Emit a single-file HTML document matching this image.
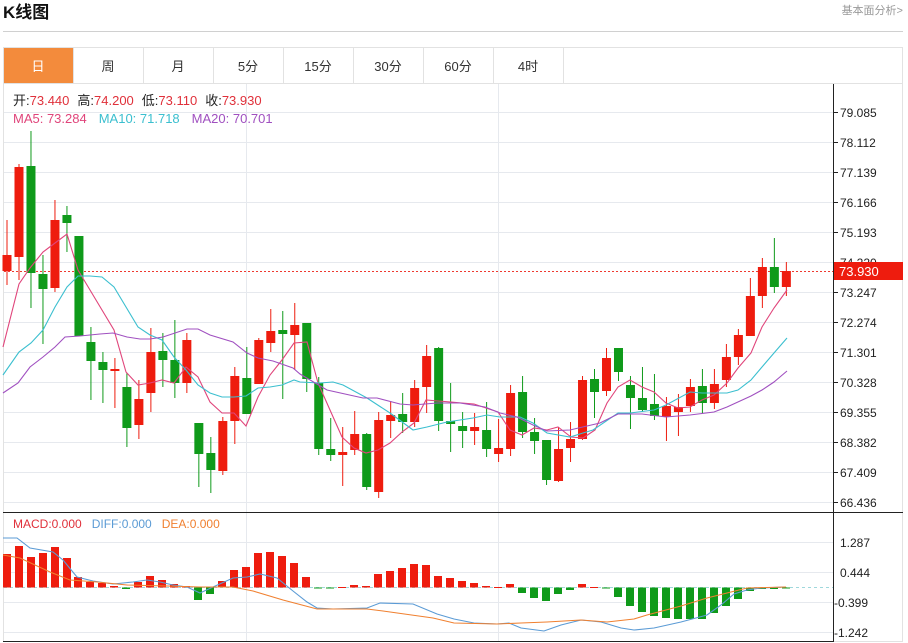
<!DOCTYPE html>
<html><head><meta charset="utf-8"><style>
body{margin:0;width:908px;height:643px;background:#fff;overflow:hidden;font-family:"Liberation Sans","Noto Sans CJK SC",sans-serif}
svg{position:absolute;left:0;top:0}
</style></head><body>
<svg id="s" width="908" height="643" xmlns="http://www.w3.org/2000/svg" font-family="Liberation Sans, Noto Sans CJK SC, sans-serif">
<text x="3" y="18" font-size="17" font-weight="bold" fill="#111">K线图</text>
<text x="903" y="14" font-size="11" fill="#999" text-anchor="end">基本面分析&gt;</text>
<line x1="3" y1="31.5" x2="903" y2="31.5" stroke="#d0d0d0"/>
<rect x="3.5" y="47.5" width="899" height="594" fill="none" stroke="#e2e2e2"/>
<line x1="3" y1="83.5" x2="903" y2="83.5" stroke="#e2e2e2"/>
<rect x="4" y="48" width="69" height="35" fill="#f38b3c"/>
<g id="tabs" font-size="13" text-anchor="middle"></g>
<g id="grid"></g>
<g id="plot"></g>
<line x1="833.5" y1="84" x2="833.5" y2="642" stroke="#222"/>
<line x1="3" y1="512.5" x2="903" y2="512.5" stroke="#222"/>
<line x1="3" y1="641.5" x2="833" y2="641.5" stroke="#222"/>
<g font-size="13">
<text x="13" y="105"><tspan fill="#222">开:</tspan><tspan fill="#e0303a">73.440</tspan><tspan fill="#222" dx="8">高:</tspan><tspan fill="#e0303a">74.200</tspan><tspan fill="#222" dx="8">低:</tspan><tspan fill="#e0303a">73.110</tspan><tspan fill="#222" dx="8">收:</tspan><tspan fill="#e0303a">73.930</tspan></text>
<text x="13" y="123"><tspan fill="#e0457b">MA5: 73.284</tspan><tspan fill="#3bbfcf" dx="12">MA10: 71.718</tspan><tspan fill="#a050c0" dx="12">MA20: 70.701</tspan></text>
<text x="13" y="528" font-size="12"><tspan fill="#e0303a">MACD:0.000</tspan><tspan fill="#5b9bd5" dx="10">DIFF:0.000</tspan><tspan fill="#f08030" dx="10">DEA:0.000</tspan></text>
</g>
</svg>
<script>
const NS="http://www.w3.org/2000/svg";
function el(p,t,a,txt){const e=document.createElementNS(NS,t);for(const k in a)e.setAttribute(k,a[k]);if(txt!==undefined)e.textContent=txt;p.appendChild(e);return e}
const tabs=document.getElementById('tabs'),grid=document.getElementById('grid'),plot=document.getElementById('plot');
const tl=['日','周','月','5分','15分','30分','60分','4时'];
tl.forEach((t,i)=>{const x0=3+70*i;el(tabs,'text',{x:x0+35,y:71,fill:i==0?'#fff':'#333'},t);if(i>0)el(tabs,'line',{x1:x0+0.5,y1:48,x2:x0+0.5,y2:83,stroke:'#e2e2e2'});});
el(tabs,'line',{x1:563.5,y1:48,x2:563.5,y2:83,stroke:'#e2e2e2'});
const labs=['79.085','78.112','77.139','76.166','75.193','74.220','73.247','72.274','71.301','70.328','69.355','68.382','67.409','66.436'];
labs.forEach((l,k)=>{const y=112+30*k;el(grid,'line',{x1:4,y1:y+.5,x2:833,y2:y+.5,stroke:'#e6e9ee'});el(grid,'line',{x1:833,y1:y+.5,x2:838,y2:y+.5,stroke:'#222'});el(grid,'text',{x:840,y:y+5,'font-size':12,fill:'#222'},l)});
[['1.287',542],['0.444',572],['-0.399',602],['-1.242',632]].forEach(a=>{el(grid,'line',{x1:4,y1:a[1]+.5,x2:833,y2:a[1]+.5,stroke:'#e6e9ee'});el(grid,'text',{x:a[0][0]=='-'?834:840,y:a[1]+5,'font-size':12,fill:'#222'},a[0][0]=='-'?a[0]:a[0])});
[246,498].forEach(x=>el(grid,'line',{x1:x+.5,y1:84,x2:x+.5,y2:641,stroke:'#e6e9ee'}));
el(grid,'line',{x1:4,y1:587.5,x2:833,y2:587.5,stroke:'#9fd8dc','stroke-dasharray':'3,3'});
const C=[[255,271,220,285,'r'],[167,257,164,280,'r'],[166,273,131,308,'g'],[274,289,255,344,'g'],[220,288,200,292,'r'],[215,223,206,252,'g'],[236,336,236,336,'g'],[342,361,327,400,'g'],[362,370,352,403,'g'],[369,371,358,408,'r'],[387,428,373,447,'g'],[399,425,380,439,'r'],[352,393,328,412,'r'],[351,360,333,387,'g'],[360,383,320,398,'g'],[340,383,333,393,'r'],[423,454,423,487,'g'],[453,470,437,493,'g'],[421,471,417,475,'r'],[376,421,367,444,'r'],[378,414,347,414,'g'],[340,384,338,384,'r'],[331,343,309,352,'r'],[330,334,311,399,'g'],[325,335,303,370,'r'],
[323,379,323,392,'g'],[383,449,377,455,'g'],[449,455,418,461,'g'],[452,455,427,486,'r'],[434,450,411,455,'r'],[434,487,433,490,'g'],[420,492,412,498,'r'],[415,421,401,438,'r'],[414,422,393,433,'g'],[388,422,380,427,'r'],[356,387,345,413,'r'],[348,421,347,431,'g'],[421,424,383,452,'g'],[426,431,412,448,'g'],[427,431,413,445,'r'],[430,449,402,457,'g'],[448,454,419,462,'r'],[393,449,385,456,'r'],[392,432,376,438,'g'],[432,441,418,454,'g'],[440,480,440,485,'g'],[449,481,427,482,'r'],[439,448,422,462,'r'],[380,439,376,440,'r'],[379,392,369,418,'g'],
[358,391,348,396,'r'],[348,372,348,381,'g'],[385,398,376,429,'g'],[398,410,367,412,'g'],[404,416,374,420,'g'],[406,417,397,441,'r'],[407,412,394,436,'r'],[387,406,379,412,'r'],[386,403,369,413,'g'],[384,403,369,409,'r'],[357,380,344,387,'r'],[335,357,329,365,'r'],[296,336,278,336,'r'],[267,296,258,308,'r'],[267,287,238,293,'g'],[271,287,262,296,'r']];
const RED='#ee1c0e',GR='#0f9a1a';
// price line
el(plot,'line',{x1:4,y1:271.5,x2:833,y2:271.5,stroke:'#ee3a30','stroke-dasharray':'2,2'});
C.forEach((c,i)=>{const x=7+11.99*i,col=c[4]=='r'?RED:GR;el(plot,'line',{x1:x,y1:c[2],x2:x,y2:c[3],stroke:col,'stroke-width':1});el(plot,'rect',{x:x-4.5,y:c[0],width:9,height:Math.max(2,c[1]-c[0]),fill:col})});
function pl(pts,col){el(plot,'polyline',{points:pts,fill:'none',stroke:col,'stroke-width':1.1})}
pl("3,347 19,284 30,268 43,252 55,243 67,234 78,270 90,290 102,310 114,330 126,372 138,385 150,383 162,380 174,383 186,367 198,377 210,402 222,413 234,413 246,426 258,397 270,375 282,360 294,343 307,342 318,383 330,410 342,437 354,448 366,453 378,450 390,443 402,432 414,423 426,400 438,401 451,402 462,403 474,404 486,408 498,412 510,430 522,435 534,428 547,430 558,427 571,437 583,438 595,430 607,403 618,387 630,380 642,387 654,392 666,403 678,408 690,407 702,400 714,395 727,383 738,368 751,353 762,327 774,308 787,290",'#e0457b');
pl("3,375 19,352 31,343 43,330 55,307 67,287 78,276 90,276 102,277 114,287 126,307 138,327 150,335 162,340 174,357 186,370 198,385 210,393 222,397 234,397 246,396 258,388 270,387 282,385 294,380 300,382 320,383 333,382 343,385 367,398 390,413 413,430 427,427 447,422 473,418 487,415 500,417 520,417 533,423 547,433 570,437 583,433 593,430 618,413 630,413 654,410 666,405 690,392 702,393 727,393 738,390 751,380 762,367 774,353 787,338",'#3bbfcf');
pl("3,393 18,383 30,367 43,357 55,347 65,337 80,336 100,334 113,333 127,337 140,339 150,339 163,337 187,329 198,329 210,335 233,342 247,353 258,358 273,361 293,368 300,374 327,390 363,398 377,398 400,404 413,405 437,403 460,403 485,407 500,413 517,417 533,425 547,431 570,430 587,426 600,423 618,414 642,414 666,417 690,415 714,412 727,407 751,396 762,390 774,382 787,371",'#a050c0');
// macd bars
const M=[[7,554],[19,546],[31,557],[43,553],[55,547],[67,558],[78,577],[90,582],[102,583],[114,586],[126,589],[138,582],[150,576],[162,580],[174,584],[186,586],[198,600],[210,594],[222,581],[234,570],[246,567],[258,553],[270,552],[282,556],[294,563],[306,577],[318,588],[330,588],[342,587],[354,585],[366,586],[378,574],[390,571],[402,568],[414,564],[426,565],[438,576],[450,578],[462,581],[474,583],[486,586],[498,587],[510,584],[522,593],[534,598],[546,601],[558,594],[570,590],[582,584],[594,587],[606,588],[618,597],[630,606],[642,612],[654,616],[666,618],[678,619],[690,619],[702,619],[714,613],[726,606],[738,599],[750,591],[762,589],[774,589],[786,588]];
M.forEach(m=>{const z=587.5;const up=m[1]<z;const y=up?m[1]:z,h=Math.max(1,Math.abs(m[1]-z));el(plot,'rect',{x:m[0]-4,y:y,width:8,height:h,fill:up?RED:GR})});
pl("3,538 17,538 30,548 53,552 63,560 77,577 93,581 113,584 133,582 147,580 160,582 173,585 187,587 200,593 213,587 233,578 247,577 260,574 277,578 293,591 307,602 317,608 333,609 367,608 380,603 413,604 437,614 454,619 474,623 497,624 509,623 521,628 544,631 561,625 581,620 601,622 621,628 634,630 654,628 681,622 707,615 721,605 734,594 747,590 761,588 786,587",'#5b9bd5');
pl("3,555 20,558 50,572 70,580 97,582 127,585 167,586 200,587 233,587 253,591 283,600 317,609 367,609 383,611 433,618 454,623 497,624 521,623 547,622 581,620 607,622 634,619 647,615 681,606 707,598 731,592 747,588 786,587",'#f08030');
// price label
el(plot,'rect',{x:834,y:262,width:69,height:18,fill:'#ee1c0e'});
el(plot,'text',{x:839,y:276,'font-size':13,fill:'#fff'},'73.930');
</script>
</body></html>
